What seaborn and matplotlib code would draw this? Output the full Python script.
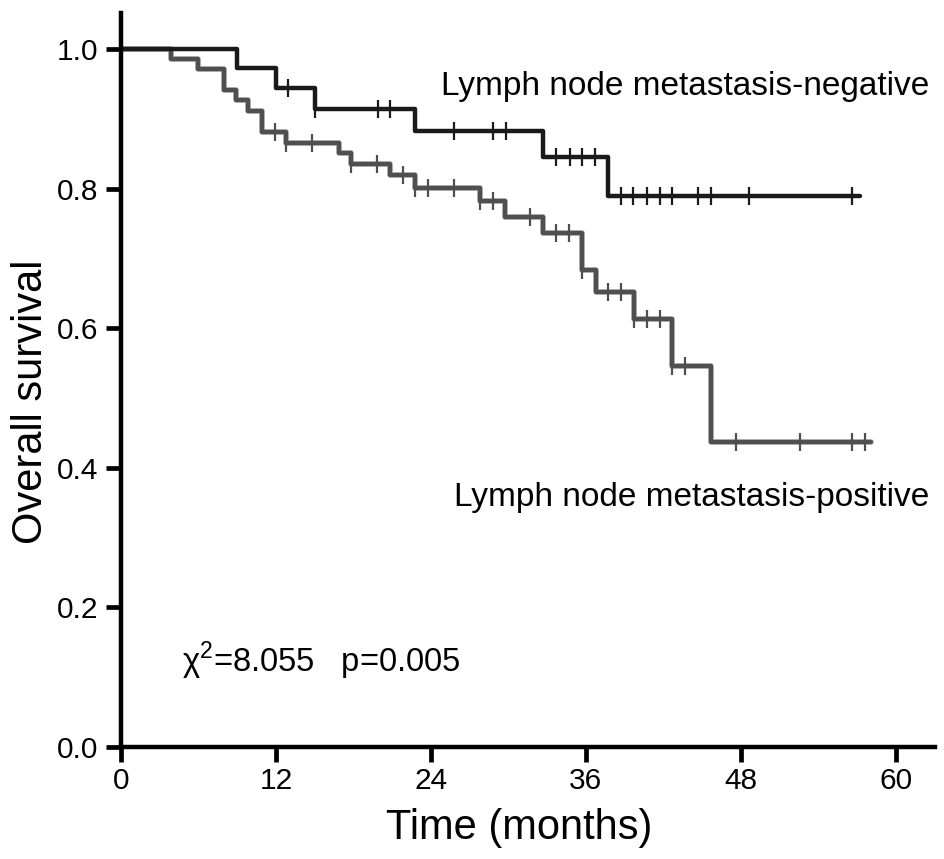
import numpy as np
import pandas as pd
import matplotlib
matplotlib.use("Agg")
import matplotlib.pyplot as plt
import seaborn as sns

# ---- Data ----
# Lymph node metastasis-negative: step times (months) and survival after each step
neg_times = [0, 9.0, 12.0, 15.0, 22.8, 32.7, 37.7, 57.2]
neg_surv = [1.0, 0.973, 0.944, 0.914, 0.883, 0.846, 0.789, 0.789]
neg_censor = [12.9, 15.0, 19.9, 20.8, 25.8, 28.8, 29.8, 33.7, 34.75, 35.7, 36.7,
              38.7, 39.65, 40.7, 41.7, 42.7, 44.7, 45.7, 48.6, 56.6]

# Lymph node metastasis-positive
pos_times = [0, 3.9, 6.0, 8.0, 8.9, 9.85, 10.9, 12.8, 16.9, 17.8, 20.8, 22.75,
             27.8, 29.7, 32.7, 35.7, 36.8, 39.7, 42.7, 45.7, 58.1]
pos_surv = [1.0, 0.986, 0.971, 0.942, 0.927, 0.912, 0.882, 0.866, 0.851, 0.835,
            0.820, 0.801, 0.782, 0.760, 0.737, 0.683, 0.652, 0.614, 0.546, 0.437, 0.437]
pos_censor = [11.9, 12.8, 14.8, 17.8, 19.8, 21.8, 22.8, 23.8, 25.8, 27.8, 28.8,
              31.7, 33.7, 34.7, 35.7, 37.7, 38.7, 39.7, 40.7, 41.7, 42.7, 43.65,
              47.65, 52.6, 56.6, 57.6]

x_ticks = [0, 12, 24, 36, 48, 60]
y_ticks = [0.0, 0.2, 0.4, 0.6, 0.8, 1.0]
y_tick_labels = ["0.0", "0.2", "0.4", "0.6", "0.8", "1.0"]

neg_label = "Lymph node metastasis-negative"
pos_label = "Lymph node metastasis-positive"
stat_text = "χ$^2$=8.055   p=0.005"

# ---- Plot ----
sns.set_theme(style="white")
plt.rcParams['font.family'] = ['Liberation Sans', 'DejaVu Sans']
plt.rcParams['mathtext.fontset'] = 'custom'
plt.rcParams['mathtext.rm'] = 'Liberation Sans'
for k in ['text.color', 'axes.labelcolor', 'xtick.color', 'ytick.color']:
    plt.rcParams[k] = 'black'

fig = plt.figure(figsize=(9.45, 8.59), dpi=100)
ax = fig.add_axes([0.128, 0.1304, 0.861, 0.8545])

def step_value(times, surv, t):
    idx = np.searchsorted(np.asarray(times), t, side="right") - 1
    return np.asarray(surv)[idx]

neg_df = pd.DataFrame({"t": neg_times, "s": neg_surv})
pos_df = pd.DataFrame({"t": pos_times, "s": pos_surv})

neg_color = "#1a1a1a"
pos_color = "#4f4f4f"

# halo for the grey curve
sns.lineplot(data=pos_df, x="t", y="s", drawstyle="steps-post", color="#a0a0a0",
             lw=4.0, ax=ax, estimator=None, sort=False)
sns.lineplot(data=pos_df, x="t", y="s", drawstyle="steps-post", color=pos_color,
             lw=3.0, ax=ax, estimator=None, sort=False)
sns.lineplot(data=neg_df, x="t", y="s", drawstyle="steps-post", color=neg_color,
             lw=3.2, ax=ax, estimator=None, sort=False)

pos_c = pd.DataFrame({"t": pos_censor,
                      "s": [step_value(pos_times, pos_surv, t) for t in pos_censor]})
neg_c = pd.DataFrame({"t": neg_censor,
                      "s": [step_value(neg_times, neg_surv, t) for t in neg_censor]})
sns.scatterplot(data=pos_c, x="t", y="s", marker="|", s=170, color=pos_color,
                linewidth=1.6, ax=ax, zorder=5)
sns.scatterplot(data=neg_c, x="t", y="s", marker="|", s=170, color=neg_color,
                linewidth=1.6, ax=ax, zorder=5)

ax.set_xlim(0, 63.0)
ax.set_ylim(0, 1.052)
ax.set_xticks(x_ticks)
ax.set_xticklabels([str(v) for v in x_ticks], fontsize=21.5)
ax.set_yticks(y_ticks)
ax.set_yticklabels(y_tick_labels, fontsize=21.5)

for side in ["top", "right"]:
    ax.spines[side].set_visible(False)
for side in ["left", "bottom"]:
    ax.spines[side].set_linewidth(3.2)
    ax.spines[side].set_color("black")
ax.tick_params(axis="both", direction="out", length=11, width=3.4, colors="black",
               bottom=True, left=True)
ax.tick_params(axis="y", pad=5)
ax.tick_params(axis="x", pad=3.5)

ax.set_xlabel("Time (months)", fontsize=30)
ax.set_ylabel("Overall survival", fontsize=30)
ax.xaxis.set_label_coords(0.489, -0.083)
ax.yaxis.set_label_coords(-0.086, 0.47)

ax.text(62.6, 0.946, neg_label, fontsize=24, ha="right", va="center")
ax.text(62.6, 0.358, pos_label, fontsize=24, ha="right", va="center")
ax.text(4.7, 0.124, stat_text, fontsize=23.5, ha="left", va="center")

fig.savefig("out.png", dpi=100)
